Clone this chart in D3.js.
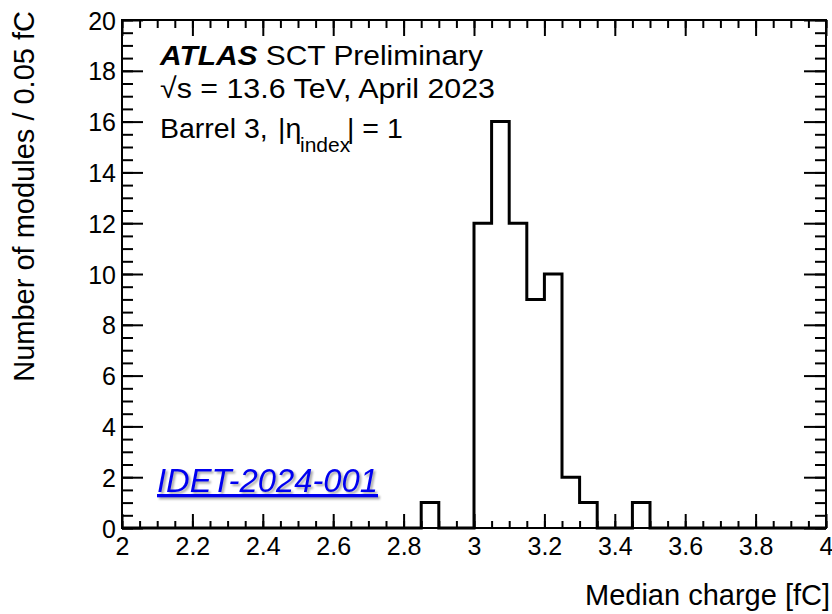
<!DOCTYPE html>
<html>
<head>
<meta charset="utf-8">
<script src="https://cdn.jsdelivr.net/npm/d3@7"></script>
<style>
  html, body { margin: 0; padding: 0; background: #fff; }
  svg { display: block; }
  text { font-family: "Liberation Sans", Arial, sans-serif; fill: #000; }
</style>
</head>
<body>
<svg id="chart" width="832" height="614"></svg>
<script>
// ---- data ----
const xDomain = [2, 4];
const yDomain = [0, 20];
const binWidth = 0.05;
// 40 bins from 2.00 to 4.00, 0.05 fC wide
const counts = [
  0, 0, 0, 0, 0, 0, 0, 0, 0, 0,      // 2.00 - 2.50
  0, 0, 0, 0, 0, 0, 0, 1, 0, 0,      // 2.50 - 3.00
  12, 16, 12, 9, 10, 2, 1, 0, 0, 1,  // 3.00 - 3.50
  0, 0, 0, 0, 0, 0, 0, 0, 0, 0       // 3.50 - 4.00
];
const xMajorTicks = [2, 2.2, 2.4, 2.6, 2.8, 3, 3.2, 3.4, 3.6, 3.8, 4];
const xTickLabels = ["2", "2.2", "2.4", "2.6", "2.8", "3", "3.2", "3.4", "3.6", "3.8", "4"];
const yMajorTicks = [0, 2, 4, 6, 8, 10, 12, 14, 16, 18, 20];
const yTickLabels = ["0", "2", "4", "6", "8", "10", "12", "14", "16", "18", "20"];
const xTitle = "Median charge [fC]";
const yTitle = "Number of modules / 0.05 fC";
const atlasLines = ["SCT Preliminary", "\u221As = 13.6 TeV, April 2023"];
const refTag = "IDET-2024-001";

// ---- layout ----
const L = 122, R = 826, T = 20, B = 528;
const svg = d3.select("#chart");
const x = d3.scaleLinear().domain(xDomain).range([L, R]);
const y = d3.scaleLinear().domain(yDomain).range([B, T]);

const xMinor = d3.range(0, 41).map(i => +(xDomain[0] + i * binWidth).toFixed(2));
const yMinor = d3.range(0, 41).map(i => i * 0.5);

function styleAxis(g) {
  g.select(".domain").remove();
  g.selectAll(".tick line").attr("stroke", "#000").attr("stroke-width", 2);
  g.selectAll(".tick text").attr("font-size", 25).attr("font-family", "Liberation Sans, Arial, sans-serif").attr("fill", "#000");
}

// minor ticks
svg.append("g").attr("transform", `translate(0,${B})`)
  .call(d3.axisBottom(x).tickValues(xMinor).tickSizeInner(-7).tickSizeOuter(0).tickFormat(""))
  .call(styleAxis);
svg.append("g").attr("transform", `translate(0,${T})`)
  .call(d3.axisTop(x).tickValues(xMinor).tickSizeInner(-8).tickSizeOuter(0).tickFormat(""))
  .call(styleAxis);
svg.append("g").attr("transform", `translate(${L},0)`)
  .call(d3.axisLeft(y).tickValues(yMinor).tickSizeInner(-11).tickSizeOuter(0).tickFormat(""))
  .call(styleAxis);
svg.append("g").attr("transform", `translate(${R},0)`)
  .call(d3.axisRight(y).tickValues(yMinor).tickSizeInner(-11).tickSizeOuter(0).tickFormat(""))
  .call(styleAxis);

// major ticks
svg.append("g").attr("transform", `translate(0,${B})`)
  .call(d3.axisBottom(x).tickValues(xMajorTicks).tickSizeInner(-14).tickSizeOuter(0).tickPadding(9)
    .tickFormat((d, i) => xTickLabels[i]))
  .call(styleAxis);
svg.append("g").attr("transform", `translate(0,${T})`)
  .call(d3.axisTop(x).tickValues(xMajorTicks).tickSizeInner(-16).tickSizeOuter(0).tickFormat(""))
  .call(styleAxis);
svg.append("g").attr("transform", `translate(${L},0)`)
  .call(d3.axisLeft(y).tickValues(yMajorTicks).tickSizeInner(-21).tickSizeOuter(0).tickPadding(6)
    .tickFormat((d, i) => yTickLabels[i]))
  .call(styleAxis)
  .call(g => g.selectAll(".tick text").attr("dy", "0.36em"));
svg.append("g").attr("transform", `translate(${R},0)`)
  .call(d3.axisRight(y).tickValues(yMajorTicks).tickSizeInner(-22).tickSizeOuter(0).tickFormat(""))
  .call(styleAxis);

// frame
svg.append("rect")
  .attr("x", L).attr("y", T).attr("width", R - L).attr("height", B - T)
  .attr("fill", "none").attr("stroke", "#000").attr("stroke-width", 2);

// histogram outline
const pts = [[x(xDomain[0]), y(0)]];
counts.forEach((c, i) => {
  const lo = xDomain[0] + i * binWidth, hi = lo + binWidth;
  pts.push([x(lo), y(c)], [x(hi), y(c)]);
});
pts.push([x(xDomain[1]), y(0)]);
svg.append("path")
  .attr("d", d3.line()(pts))
  .attr("fill", "none").attr("stroke", "#000").attr("stroke-width", 3)
  .attr("stroke-linejoin", "miter");

// axis titles
svg.append("text")
  .attr("x", R + 4).attr("y", 605)
  .attr("text-anchor", "end").attr("font-size", 29)
  .text(xTitle);
svg.append("text")
  .attr("transform", "translate(34,11) rotate(-90)")
  .attr("text-anchor", "end").attr("font-size", 29)
  .text(yTitle);

// ATLAS label
const t1 = svg.append("text").attr("x", 160).attr("y", 65).attr("font-size", 28.5)
  .attr("textLength", 323).attr("lengthAdjust", "spacingAndGlyphs");
t1.append("tspan").attr("font-weight", "bold").attr("font-style", "italic").text("ATLAS");
t1.append("tspan").text(" " + atlasLines[0]);
svg.append("text").attr("x", 160).attr("y", 98).attr("font-size", 28.5)
  .attr("textLength", 335).attr("lengthAdjust", "spacingAndGlyphs")
  .text(atlasLines[1]);

const t3 = svg.append("text").attr("x", 160).attr("y", 138).attr("font-size", 28.5);
t3.append("tspan").text("Barrel 3,");
t3.append("tspan").attr("x", 278).text("|\u03B7");
t3.append("tspan").attr("x", 300).attr("dy", 14).attr("font-size", 21).text("index");
t3.append("tspan").attr("x", 347).attr("dy", -14).text("| = 1");

// reference tag
svg.append("text")
  .attr("x", 157).attr("y", 492)
  .attr("font-family", "Lato, 'Open Sans', sans-serif")
  .attr("font-style", "italic")
  .attr("font-size", 33)
  .attr("textLength", 221).attr("lengthAdjust", "spacingAndGlyphs")
  .style("fill", "#0000f0")
  .style("text-decoration", "underline")
  .style("filter", "drop-shadow(2px 2px 1px rgba(0,0,0,0.35))")
  .text(refTag);
</script>
</body>
</html>
